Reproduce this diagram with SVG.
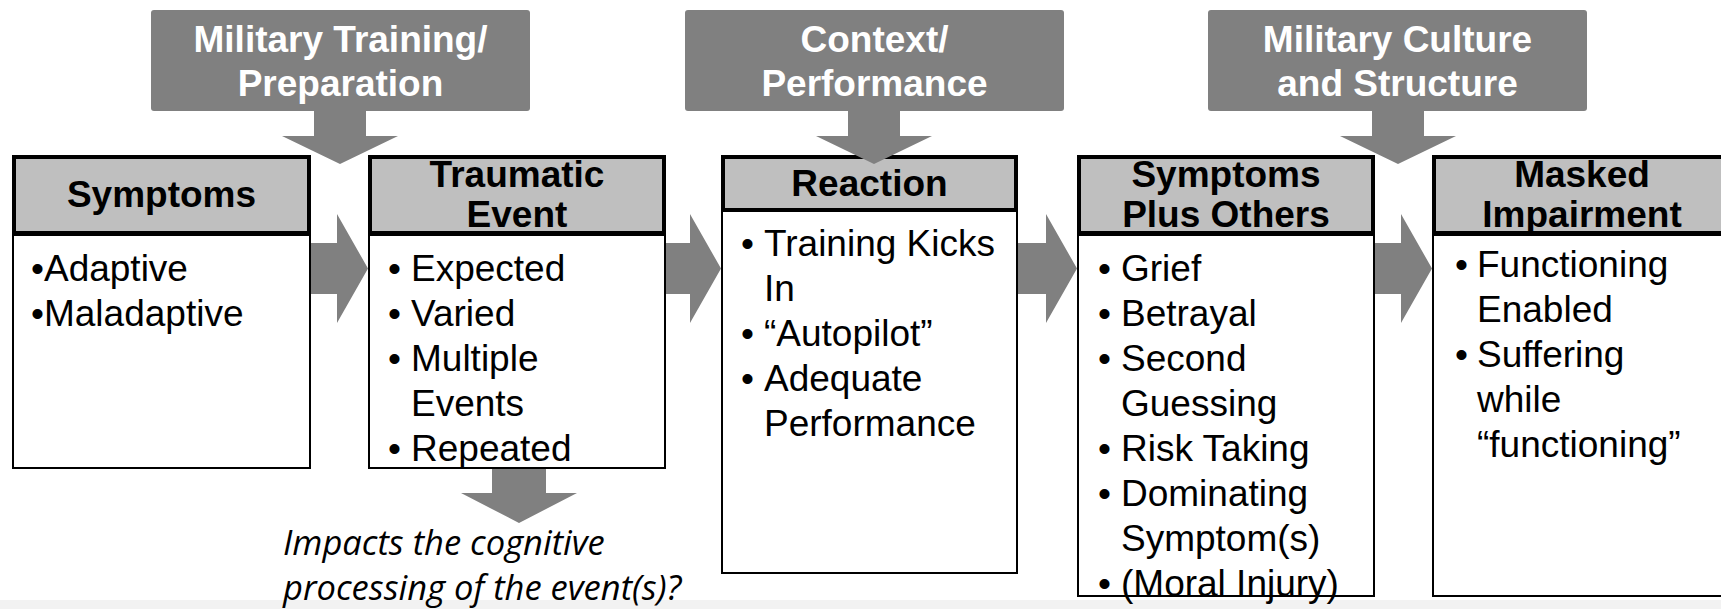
<svg xmlns="http://www.w3.org/2000/svg" width="1721" height="609" viewBox="0 0 1721 609">
<style>
.top{fill:#808080}
.topt{font-family:"Liberation Sans",Arial,sans-serif;font-weight:bold;font-size:37px;fill:#fff;text-anchor:middle}
.hdr{fill:#bfbfbf;stroke:#000;stroke-width:4}
.body{fill:#fff;stroke:#000;stroke-width:2}
.ht{font-family:"Liberation Sans",Arial,sans-serif;font-weight:bold;font-size:37px;fill:#000;text-anchor:middle}
.bt{font-family:"Liberation Sans",Arial,sans-serif;font-size:37px;fill:#000}
.arr{fill:#808080}
.note{font-family:"Open Sans","Liberation Sans",sans-serif;font-style:italic;font-size:34.5px;fill:#000}
</style>
<rect x="0" y="0" width="1721" height="609" fill="#fff"/>
<rect x="0" y="600" width="1721" height="9" fill="#f2f2f2"/>

<g id="top-training">
<rect class="top" x="151" y="10" width="379" height="101" rx="3"/>
<text class="topt" x="340.5" y="52">Military Training/</text>
<text class="topt" x="340.5" y="96">Preparation</text>
</g>
<g id="top-context">
<rect class="top" x="685" y="10" width="379" height="101" rx="3"/>
<text class="topt" x="874.5" y="52">Context/</text>
<text class="topt" x="874.5" y="96">Performance</text>
</g>
<g id="top-culture">
<rect class="top" x="1208" y="10" width="379" height="101" rx="3"/>
<text class="topt" x="1397.5" y="52">Military Culture</text>
<text class="topt" x="1397.5" y="96">and Structure</text>
</g>

<g id="node-symptoms">
<rect class="body" x="13" y="235" width="297" height="233"/>
<rect class="hdr" x="14" y="157" width="295" height="76"/>
<text class="ht" x="161.5" y="207">Symptoms</text>
<text class="bt" x="31" y="281">•Adaptive</text>
<text class="bt" x="31" y="326">•Maladaptive</text>
</g>

<g id="node-traumatic">
<rect class="body" x="369" y="235" width="296" height="233"/>
<rect class="hdr" x="370" y="157" width="294" height="76"/>
<text class="ht" x="517" y="187">Traumatic</text>
<text class="ht" x="517" y="227">Event</text>
<text class="bt" x="388" y="281">•</text><text class="bt" x="411" y="281">Expected</text>
<text class="bt" x="388" y="326">•</text><text class="bt" x="411" y="326">Varied</text>
<text class="bt" x="388" y="371">•</text><text class="bt" x="411" y="371">Multiple</text>
<text class="bt" x="411" y="416">Events</text>
<text class="bt" x="388" y="461">•</text><text class="bt" x="411" y="461">Repeated</text>
</g>

<g id="node-reaction">
<rect class="body" x="722" y="211" width="295" height="362"/>
<rect class="hdr" x="723" y="157" width="293" height="53"/>
<text class="ht" x="869.5" y="196">Reaction</text>
<text class="bt" x="741" y="256">•</text><text class="bt" x="764" y="256">Training Kicks</text>
<text class="bt" x="764" y="301">In</text>
<text class="bt" x="741" y="346">•</text><text class="bt" x="764" y="346">“Autopilot”</text>
<text class="bt" x="741" y="391">•</text><text class="bt" x="764" y="391">Adequate</text>
<text class="bt" x="764" y="436">Performance</text>
</g>

<g id="node-plus">
<rect class="body" x="1078" y="235" width="296" height="361"/>
<rect class="hdr" x="1079" y="157" width="294" height="76"/>
<text class="ht" x="1226" y="187">Symptoms</text>
<text class="ht" x="1226" y="227">Plus Others</text>
<text class="bt" x="1098" y="281">•</text><text class="bt" x="1121" y="281">Grief</text>
<text class="bt" x="1098" y="326">•</text><text class="bt" x="1121" y="326">Betrayal</text>
<text class="bt" x="1098" y="371">•</text><text class="bt" x="1121" y="371">Second</text>
<text class="bt" x="1121" y="416">Guessing</text>
<text class="bt" x="1098" y="461">•</text><text class="bt" x="1121" y="461">Risk Taking</text>
<text class="bt" x="1098" y="506">•</text><text class="bt" x="1121" y="506">Dominating</text>
<text class="bt" x="1121" y="551">Symptom(s)</text>
<text class="bt" x="1098" y="596">•</text><text class="bt" x="1121" y="596">(Moral Injury)</text>
</g>

<g id="node-masked">
<rect class="body" x="1433" y="235" width="298" height="361"/>
<rect class="hdr" x="1434" y="157" width="296" height="76"/>
<text class="ht" x="1582" y="187">Masked</text>
<text class="ht" x="1582" y="227">Impairment</text>
<text class="bt" x="1455" y="277">•</text><text class="bt" x="1477" y="277">Functioning</text>
<text class="bt" x="1477" y="322">Enabled</text>
<text class="bt" x="1455" y="367">•</text><text class="bt" x="1477" y="367">Suffering</text>
<text class="bt" x="1477" y="412">while</text>
<text class="bt" x="1477" y="457">“functioning”</text>
</g>

<g id="note">
<text class="note" x="283" y="555">Impacts the cognitive</text>
<text class="note" x="283" y="600">processing of the event(s)?</text>
</g>

<g id="connectors">
<polygon class="arr" points="311,243 337,243 337,214 368,268.5 337,323 337,294 311,294"/>
<polygon class="arr" points="666,243 690,243 690,214 721,268.5 690,323 690,294 666,294"/>
<polygon class="arr" points="1018,243 1046,243 1046,214 1077,268.5 1046,323 1046,294 1018,294"/>
<polygon class="arr" points="1375,243 1401,243 1401,214 1432,268.5 1401,323 1401,294 1375,294"/>
<polygon class="arr" points="314,111 366,111 366,136 398,136 340,164 282,136 314,136"/>
<polygon class="arr" points="848,111 900,111 900,136 932,136 874,164 816,136 848,136"/>
<polygon class="arr" points="1372,111 1424,111 1424,136 1456,136 1398,164 1340,136 1372,136"/>
<polygon class="arr" points="492,469 546,469 546,493 577,493 519,523 461,493 492,493"/>
</g>
</svg>
